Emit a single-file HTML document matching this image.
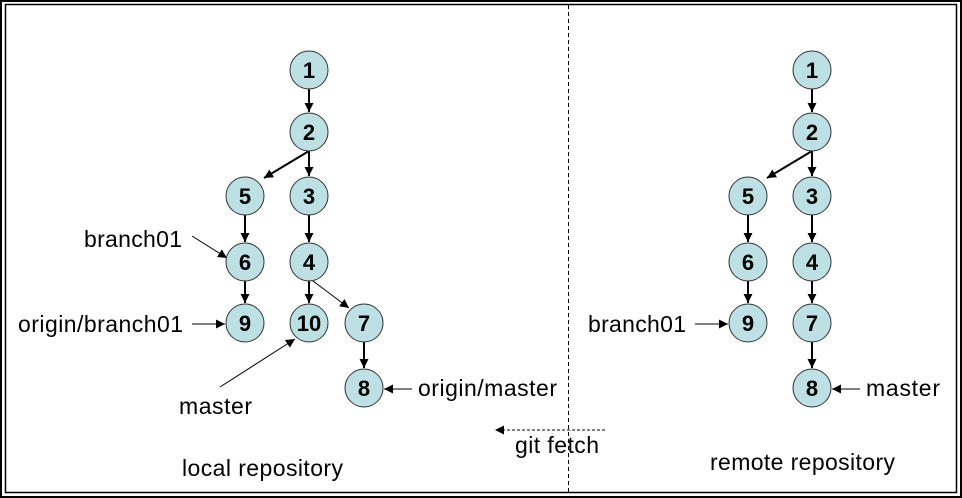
<!DOCTYPE html>
<html><head><style>body{margin:0;background:#fff}svg{display:block}</style></head><body>
<svg width="962" height="498" xmlns="http://www.w3.org/2000/svg" font-family="Liberation Sans, Arial, sans-serif">
<defs>
<marker id="a" viewBox="0 0 10 10" refX="10" refY="5" markerWidth="9" markerHeight="9" markerUnits="userSpaceOnUse" orient="auto"><path d="M0,0L10,5L0,10z" fill="#000"/></marker>
</defs>
<rect x="1" y="1" width="960" height="496" fill="none" stroke="#000" stroke-width="2"/>
<rect x="5.5" y="4.5" width="951" height="488" fill="none" stroke="#000" stroke-width="1.5"/>
<line x1="568.5" y1="5" x2="568.5" y2="492" stroke="#000" stroke-dasharray="4,3"/>
<g stroke="#000" stroke-width="2" fill="none" marker-end="url(#a)">
<line x1="309" y1="89" x2="309" y2="112"/>
<line x1="309" y1="151" x2="309" y2="176"/>
<line x1="309" y1="151" x2="264" y2="178"/>
<line x1="245" y1="215" x2="245" y2="242"/>
<line x1="309" y1="215" x2="309" y2="242"/>
<line x1="245" y1="281" x2="245" y2="303"/>
<line x1="309" y1="281" x2="309" y2="303"/>
<line x1="364" y1="342" x2="364" y2="368"/>
<line x1="812" y1="89" x2="812" y2="112"/>
<line x1="812" y1="151" x2="812" y2="176"/>
<line x1="812" y1="151" x2="767" y2="178"/>
<line x1="748" y1="215" x2="748" y2="242"/>
<line x1="812" y1="215" x2="812" y2="242"/>
<line x1="748" y1="281" x2="748" y2="303"/>
<line x1="812" y1="281" x2="812" y2="303"/>
<line x1="812" y1="342" x2="812" y2="368"/>
</g>
<g stroke="#000" stroke-width="1" fill="none" marker-end="url(#a)">
<line x1="313" y1="281" x2="349" y2="308"/>
<line x1="192" y1="236" x2="227" y2="258"/>
<line x1="192" y1="324" x2="225" y2="324"/>
<line x1="220" y1="387" x2="295" y2="339"/>
<line x1="412" y1="389" x2="384" y2="389"/>
<line x1="695" y1="324" x2="728" y2="324"/>
<line x1="860" y1="389" x2="832" y2="389"/>
<line x1="605" y1="430" x2="495" y2="430" stroke-dasharray="3,2"/>
</g>
<g fill="#bde0e4" stroke="#333" stroke-width="1">
<circle cx="309" cy="70" r="19"/><circle cx="309" cy="132" r="19"/>
<circle cx="245" cy="196" r="19"/><circle cx="309" cy="196" r="19"/>
<circle cx="245" cy="262" r="19"/><circle cx="309" cy="262" r="19"/>
<circle cx="245" cy="323" r="19"/><circle cx="309" cy="323" r="19"/>
<circle cx="364" cy="323" r="19"/><circle cx="364" cy="388" r="19"/>
<circle cx="812" cy="70" r="19"/><circle cx="812" cy="132" r="19"/>
<circle cx="748" cy="196" r="19"/><circle cx="812" cy="196" r="19"/>
<circle cx="748" cy="262" r="19"/><circle cx="812" cy="262" r="19"/>
<circle cx="748" cy="323" r="19"/><circle cx="812" cy="323" r="19"/>
<circle cx="812" cy="388" r="19"/>
</g>
<g font-size="22" font-weight="bold" text-anchor="middle">
<text x="309" y="78">1</text><text x="309" y="140">2</text>
<text x="245" y="204">5</text><text x="309" y="204">3</text>
<text x="245" y="270">6</text><text x="309" y="270">4</text>
<text x="245" y="331">9</text><text x="309" y="331">10</text>
<text x="364" y="331">7</text><text x="364" y="396">8</text>
<text x="812" y="78">1</text><text x="812" y="140">2</text>
<text x="748" y="204">5</text><text x="812" y="204">3</text>
<text x="748" y="270">6</text><text x="812" y="270">4</text>
<text x="748" y="331">9</text><text x="812" y="331">7</text>
<text x="812" y="396">8</text>
</g>
<g font-size="23">
<text x="84" y="247" textLength="98">branch01</text>
<text x="18" y="332" textLength="165">origin/branch01</text>
<text x="179" y="414" textLength="73">master</text>
<text x="418" y="396" textLength="139">origin/master</text>
<text x="515" y="453" textLength="84">git fetch</text>
<text x="182" y="476" textLength="161">local repository</text>
<text x="588" y="332" textLength="98">branch01</text>
<text x="866" y="396" textLength="74">master</text>
<text x="710" y="470" textLength="185">remote repository</text>
</g>
</svg>
</body></html>
